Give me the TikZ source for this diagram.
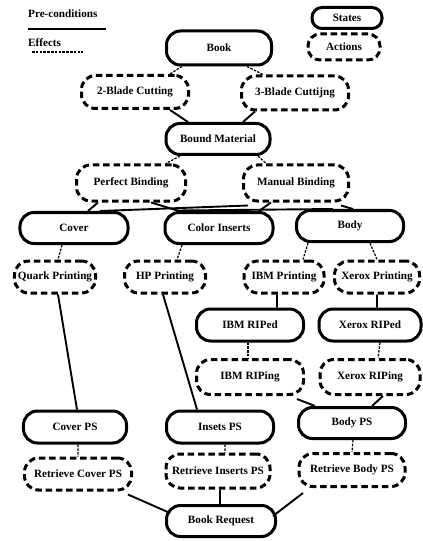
\documentclass[tikz,border=0pt]{standalone}
\usepackage{fontspec}
\setmainfont{Liberation Serif}
\begin{document}
\begin{tikzpicture}[x=1bp,y=-1bp,
  every node/.style={font=\fontsize{11.2}{13}\selectfont\bfseries},
  state/.style={draw, line width=3bp, rounded corners=14bp, inner sep=0pt},
  act/.style={state, dash pattern=on 6.5bp off 3.8bp},
  pre/.style={line width=1.9bp},
  eff/.style={line width=1.2bp, dash pattern=on 2.5bp off 1.3bp},
  lbl/.style={anchor=west, inner sep=0pt}]
\useasboundingbox (0,0) rectangle (422,541);
% legend
\node[lbl] (pc) at (28,14) {Pre-conditions};
\node[lbl] (ef) at (28,43) {Effects};
\coordinate (pa) at (28,29); \coordinate (pb1) at (106,29);
\draw[pre] (pa) -- (pb1);
\coordinate (ea) at (32,52); \coordinate (eb) at (83,52);
\draw[eff] (ea) -- (eb);
\node[state, minimum width=70bp, minimum height=21bp, rounded corners=10bp] (lstates) at (347,18) {States};
\node[act, minimum width=72bp, minimum height=26bp, rounded corners=12bp] (lacts) at (344,47) {Actions};
% states
\node[state, minimum width=105bp, minimum height=34bp] (book) at (219,48) {Book};
\node[state, minimum width=104bp, minimum height=31bp] (bm) at (218,139) {Bound Material};
\node[state, minimum width=108bp, minimum height=31bp] (cover) at (74,228) {Cover};
\node[state, minimum width=108bp, minimum height=31bp] (ci) at (219,228) {Color Inserts};
\node[state, minimum width=107bp, minimum height=31bp] (body) at (350,226) {Body};
\node[state, minimum width=107bp, minimum height=32bp] (ibmriped) at (250,325) {IBM RIPed};
\node[state, minimum width=102bp, minimum height=32bp] (xriped) at (370,325) {Xerox RIPed};
\node[state, minimum width=103bp, minimum height=32bp] (coverps) at (75,427) {Cover PS};
\node[state, minimum width=107bp, minimum height=32bp] (insetsps) at (220,427) {Insets PS};
\node[state, minimum width=107bp, minimum height=31bp] (bodyps) at (352,423) {Body PS};
\node[state, minimum width=109bp, minimum height=31bp] (bookreq) at (221,521) {Book Request};
% actions
\node[act, minimum width=107bp, minimum height=33bp] (b2) at (135,92) {2-Blade Cutting};
\node[act, minimum width=107bp, minimum height=34bp] (b3) at (295,93) {3-Blade Cuttijng};
\node[act, minimum width=109bp, minimum height=36bp] (pb) at (131,183) {Perfect Binding};
\node[act, minimum width=105bp, minimum height=36bp] (mb) at (296,183) {Manual Binding};
\node[act, minimum width=81bp, minimum height=32bp] (quark) at (55,277) {Quark Printing};
\node[act, minimum width=81bp, minimum height=32bp] (hp) at (165,277) {HP Printing};
\node[act, minimum width=80bp, minimum height=32bp] (ibmp) at (284,277) {IBM Printing};
\node[act, minimum width=85bp, minimum height=32bp] (xp) at (377,277) {Xerox Printing};
\node[act, minimum width=107bp, minimum height=35bp] (ibmriping) at (250,377) {IBM RIPing};
\node[act, minimum width=100bp, minimum height=35bp] (xriping) at (370,377) {Xerox RIPing};
\node[act, minimum width=107bp, minimum height=32bp] (rcps) at (78,474) {Retrieve Cover PS};
\node[act, minimum width=104bp, minimum height=34bp] (rips) at (218,471) {Retrieve Inserts PS};
\node[act, minimum width=106bp, minimum height=33bp] (rbps) at (352,470) {Retrieve Body PS};
% effects (action -> resulting state)
\draw[eff] ([xshift=-37bp]book.south) -- ([xshift=35bp]b2.north);
\draw[eff] ([xshift=28bp]book.south) -- ([xshift=-32bp]b3.north);
\draw[eff] ([xshift=-38bp]bm.south) -- ([xshift=35bp]pb.north);
\draw[eff] ([xshift=40bp]bm.south) -- ([xshift=-30bp]mb.north);
\draw[eff] ([xshift=-12bp]cover.south) -- ([xshift=3bp]quark.north);
\draw[eff] ([xshift=-37bp]ci.south) -- ([xshift=12bp]hp.north);
\draw[eff] ([xshift=-42bp]body.south) -- ([xshift=19bp]ibmp.north);
\draw[eff] ([xshift=20bp]body.south) -- ([xshift=0bp]xp.north);
\draw[eff] ([xshift=-2bp]ibmriped.south) -- ([xshift=-2bp]ibmriping.north);
\draw[eff] ([xshift=10bp]xriped.south) -- ([xshift=8bp]xriping.north);
\draw[eff] ([xshift=3bp]coverps.south) -- ([xshift=0bp]rcps.north);
\draw[eff] ([xshift=5bp]insetsps.south) -- ([xshift=7bp]rips.north);
\draw[eff] ([xshift=1bp]bodyps.south) -- ([xshift=0bp]rbps.north);
% pre-conditions (state -> action)
\draw[pre] ([xshift=35bp]b2.south) -- ([xshift=-30bp]bm.north);
\draw[pre] ([xshift=-40bp]b3.south) -- ([xshift=25bp]bm.north);
\draw[pre] ([xshift=-33bp]pb.south) -- ([xshift=14bp]cover.north);
\draw[pre] ([xshift=20bp]pb.south) -- ([xshift=-40bp]ci.north);
\draw[pre] ([xshift=47bp,yshift=-8bp]pb.south) -- ([xshift=-17bp]body.north);
\draw[pre] ([xshift=-48bp,yshift=-3bp]mb.south) -- ([xshift=26bp]cover.north);
\draw[pre] ([xshift=-25bp]mb.south) -- ([xshift=40bp]ci.north);
\draw[pre] ([xshift=45bp,yshift=-3bp]mb.south) -- ([xshift=3bp]body.north);
\draw[pre] ([xshift=3bp]quark.south) -- ([xshift=2bp]coverps.north);
\draw[pre] ([xshift=-2bp]hp.south) -- ([xshift=-23bp]insetsps.north);
\draw[pre] ([xshift=-7bp]ibmp.south) -- ([xshift=27bp]ibmriped.north);
\draw[pre] ([xshift=0bp]xp.south) -- ([xshift=7bp]xriped.north);
\draw[pre] ([xshift=47bp,yshift=-3bp]ibmriping.south) -- ([xshift=-37bp]bodyps.north);
\draw[pre] ([xshift=13bp]xriping.south) -- ([xshift=20bp]bodyps.north);
\draw[pre] ([xshift=50bp,yshift=-3bp]rcps.south) -- ([xshift=-51bp,yshift=-9bp]bookreq.north);
\draw[pre] ([xshift=2bp]rips.south) -- ([xshift=-1bp]bookreq.north);
\draw[pre] ([xshift=-49bp,yshift=-5bp]rbps.south) -- ([xshift=52bp,yshift=-12bp]bookreq.north);
\end{tikzpicture}
\end{document}
